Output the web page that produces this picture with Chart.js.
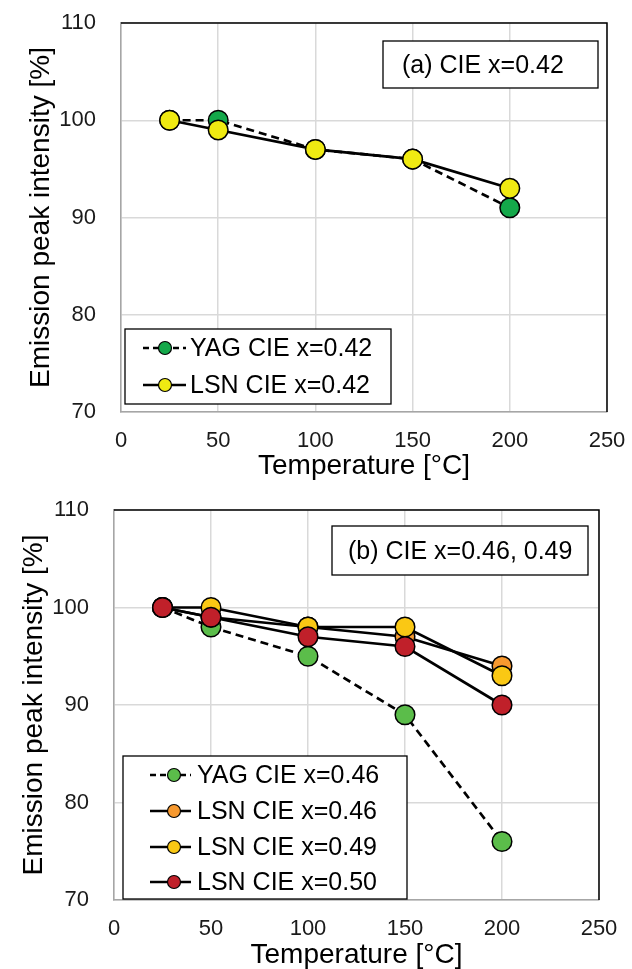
<!DOCTYPE html>
<html>
<head>
<meta charset="utf-8">
<script src="https://cdn.jsdelivr.net/npm/chart.js@4/dist/chart.umd.min.js"></script>
<style>
  html, body { margin: 0; padding: 0; background: #fff; }
  #wrap { position: relative; width: 632px; height: 969px; overflow: hidden; }
  canvas { position: absolute; left: 0; }
</style>
</head>
<body>
<div id="wrap">
  <canvas id="chartA" width="632" height="480" style="top:0px"></canvas>
  <canvas id="chartB" width="632" height="481" style="top:488px"></canvas>
</div>
<script>
// ---- data ----
const temperatures = [25, 50, 100, 150, 200];

const yagA = [100, 100, 97, 96, 91];
const lsnA = [100, 99, 97, 96, 93];

const yagB46 = [100, 98, 95, 89, 76];
const lsnB46 = [100, 99, 98, 97, 94];
const lsnB49 = [100, 100, 98, 98, 93];
const lsnB50 = [100, 99, 97, 96, 90];

const xTickValues = [0, 50, 100, 150, 200, 250];
const yTickValues = [70, 80, 90, 100, 110];

const labelsA = ['YAG CIE x=0.42', 'LSN CIE x=0.42'];
const labelsB = ['YAG CIE x=0.46', 'LSN CIE x=0.46', 'LSN CIE x=0.49', 'LSN CIE x=0.50'];
const annotationA = '(a) CIE x=0.42';
const annotationB = '(b) CIE x=0.46, 0.49';
const xTitle = 'Temperature [\u00B0C]';
const yTitle = 'Emission peak intensity [%]';

// ---- helpers ----
const FONT = '"Liberation Sans", Arial, sans-serif';
function pts(values) { return temperatures.map((t, i) => ({ x: t, y: values[i] })); }

function series(label, values, color, dashed, order) {
  return {
    label: label,
    data: pts(values),
    borderColor: '#000',
    borderWidth: 2.7,
    borderDash: dashed ? [8, 5] : [],
    pointBackgroundColor: color,
    pointBorderColor: '#000',
    pointBorderWidth: 1.5,
    pointRadius: 9.8,
    pointHoverRadius: 9.8,
    fill: false,
    tension: 0,
    order: order
  };
}

const framePlugin = {
  id: 'frameLegend',
  afterDatasetsDraw(chart, args, opts) {
    const ctx = chart.ctx;
    const a = chart.chartArea;
    ctx.save();
    // black frame on top and right
    ctx.strokeStyle = '#000';
    ctx.lineWidth = 1.5;
    ctx.setLineDash([]);
    ctx.beginPath();
    ctx.moveTo(a.left, a.top);
    ctx.lineTo(a.right, a.top);
    ctx.lineTo(a.right, a.bottom);
    ctx.stroke();

    // annotation box
    const an = opts.annotation;
    ctx.fillStyle = '#fff';
    ctx.fillRect(an.x1, an.y1, an.x2 - an.x1, an.y2 - an.y1);
    ctx.lineWidth = 1.3;
    ctx.strokeRect(an.x1, an.y1, an.x2 - an.x1, an.y2 - an.y1);
    ctx.fillStyle = '#000';
    ctx.font = '25px ' + FONT;
    ctx.textAlign = 'left';
    ctx.textBaseline = 'middle';
    ctx.fillText(an.text, an.tx, an.ty);

    // legend box
    const lg = opts.legend;
    ctx.fillStyle = '#fff';
    ctx.fillRect(lg.x1, lg.y1, lg.x2 - lg.x1, lg.y2 - lg.y1);
    ctx.strokeStyle = '#000';
    ctx.lineWidth = 1.3;
    ctx.strokeRect(lg.x1, lg.y1, lg.x2 - lg.x1, lg.y2 - lg.y1);
    const ds = chart.data.datasets;
    ds.forEach((d, i) => {
      const y = lg.rows[i];
      ctx.strokeStyle = '#000';
      ctx.lineWidth = 2.5;
      ctx.setLineDash(d.borderDash && d.borderDash.length ? [6, 4] : []);
      ctx.beginPath();
      ctx.moveTo(lg.lx1, y);
      ctx.lineTo(lg.lx2, y);
      ctx.stroke();
      ctx.setLineDash([]);
      ctx.beginPath();
      ctx.arc(lg.mx, y, 6.5, 0, Math.PI * 2);
      ctx.fillStyle = d.pointBackgroundColor;
      ctx.fill();
      ctx.lineWidth = 1.2;
      ctx.stroke();
      ctx.fillStyle = '#000';
      ctx.font = '25px ' + FONT;
      ctx.textAlign = 'left';
      ctx.textBaseline = 'middle';
      ctx.fillText(d.label, lg.tx, y + 1);
    });
    ctx.restore();
  }
};

function makeChart(id, datasets, geo, pluginOpts) {
  const canvas = document.getElementById(id);
  const W = canvas.width, H = canvas.height;
  return new Chart(canvas, {
    type: 'line',
    data: { datasets: datasets },
    plugins: [framePlugin],
    options: {
      responsive: false,
      animation: false,
      devicePixelRatio: 1,
      layout: { padding: { top: geo.top, right: W - geo.right, left: 0, bottom: 0 } },
      plugins: {
        legend: { display: false },
        tooltip: { enabled: false },
        frameLegend: pluginOpts
      },
      scales: {
        x: {
          type: 'linear',
          min: 0, max: 250,
          afterBuildTicks(s) { s.ticks = xTickValues.map(v => ({ value: v })); },
          afterFit(s) {
            s.height = H - geo.bottom;
            s.paddingLeft = 0; s.paddingRight = 0; s.paddingTop = 0; s.paddingBottom = 0;
          },
          ticks: {
            font: { family: FONT, size: 22, lineHeight: 1 },
            color: '#1a1a1a',
            padding: 18,
            maxRotation: 0,
            autoSkip: false
          },
          grid: { color: '#d9d9d9', lineWidth: 1.5, drawTicks: false },
          border: { color: '#a6a6a6', width: 1.5 },
          title: {
            display: true,
            text: xTitle,
            font: { family: FONT, size: 28, lineHeight: 1 },
            color: '#000',
            padding: { top: 0, bottom: 0 }
          }
        },
        y: {
          type: 'linear',
          min: 70, max: 110,
          afterBuildTicks(s) { s.ticks = yTickValues.map(v => ({ value: v })); },
          afterFit(s) {
            s.width = geo.left;
            s.paddingLeft = 0; s.paddingRight = 0; s.paddingTop = 0; s.paddingBottom = 0;
          },
          ticks: {
            font: { family: FONT, size: 22, lineHeight: 1 },
            color: '#1a1a1a',
            padding: 25,
            autoSkip: false
          },
          grid: { color: '#d9d9d9', lineWidth: 1.5, drawTicks: false },
          border: { color: '#a6a6a6', width: 1.5 },
          title: {
            display: true,
            text: yTitle,
            font: { family: FONT, size: 28, lineHeight: 1 },
            color: '#000',
            padding: { top: geo.yTitlePad, bottom: 0 }
          }
        }
      }
    }
  });
}

// Chart (a)
makeChart('chartA',
  [
    series(labelsA[0], yagA, '#14a84a', true, 1),
    series(labelsA[1], lsnA, '#f0ea12', false, 0)
  ],
  { left: 121, right: 607, top: 23, bottom: 412, yTitlePad: 27 },
  {
    annotation: { x1: 383, y1: 41, x2: 598, y2: 88, text: annotationA, tx: 402, ty: 66 },
    legend: { x1: 125, y1: 329, x2: 391, y2: 404, rows: [348, 385], lx1: 143, lx2: 186, mx: 165, tx: 190 }
  }
);

// Chart (b)
makeChart('chartB',
  [
    series(labelsB[0], yagB46, '#5bbd4a', true, 3),
    series(labelsB[1], lsnB46, '#f7992f', false, 2),
    series(labelsB[2], lsnB49, '#fac814', false, 1),
    series(labelsB[3], lsnB50, '#c0202a', false, 0)
  ],
  { left: 114, right: 599, top: 22, bottom: 412, yTitlePad: 20 },
  {
    annotation: { x1: 332, y1: 38, x2: 588, y2: 87, text: annotationB, tx: 348, ty: 64 },
    legend: { x1: 123, y1: 268, x2: 407, y2: 411, rows: [287, 323, 359, 394], lx1: 150, lx2: 191, mx: 174, tx: 197 }
  }
);
</script>
</body>
</html>
